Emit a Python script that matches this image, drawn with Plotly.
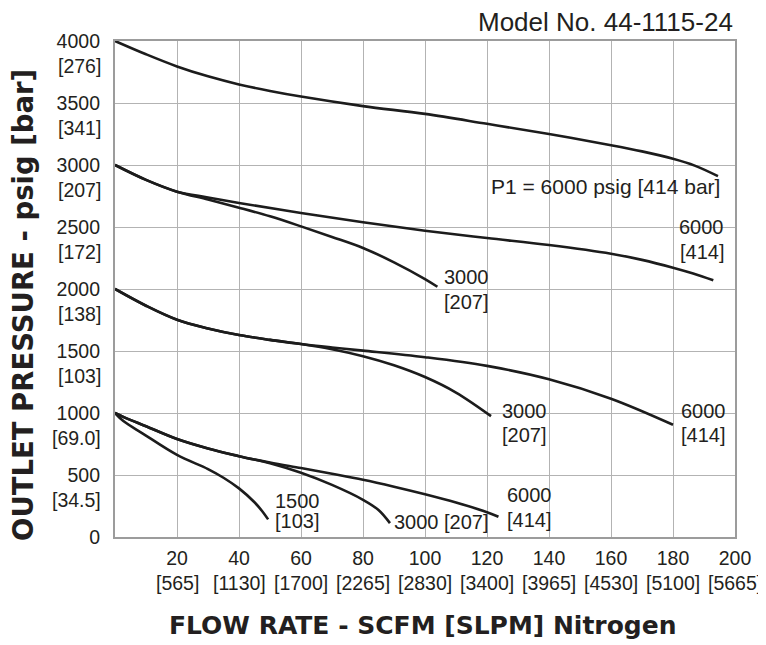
import plotly.graph_objects as go

# ---------------- data ----------------
# Top family (outlet set 4000 psig), P1 = 6000
top6000_x = [0, 10, 20, 30, 40, 50, 60, 80, 100, 120, 140, 160, 170, 180, 187, 194.5]
top6000_y = [4000, 3893, 3795, 3715, 3650, 3597, 3552, 3475, 3412, 3332, 3250, 3160, 3110, 3050, 2995, 2910]

# Outlet set 3000 psig
s3000_p6000_x = [0, 10, 20, 30, 40, 60, 80, 100, 120, 140, 160, 170, 180, 186.5, 193]
s3000_p6000_y = [3000, 2880, 2785, 2738, 2694, 2613, 2538, 2470, 2411, 2355, 2285, 2235, 2172, 2125, 2070]
s3000_p3000_x = [0, 10, 20, 30, 40, 50, 60, 70, 80, 90, 100, 104]
s3000_p3000_y = [3000, 2880, 2785, 2722, 2656, 2586, 2505, 2420, 2331, 2215, 2080, 2018]

# Outlet set 2000 psig
s2000_p6000_x = [0, 10, 20, 30, 40, 50, 60, 70, 80, 100, 120, 140, 160, 180]
s2000_p6000_y = [2000, 1865, 1752, 1682, 1629, 1590, 1556, 1528, 1503, 1450, 1380, 1272, 1115, 905]
s2000_p3000_x = [0, 10, 20, 30, 40, 50, 60, 70, 80, 90, 100, 110, 121.3]
s2000_p3000_y = [2000, 1865, 1752, 1682, 1629, 1590, 1556, 1514, 1458, 1385, 1290, 1165, 975]

# Outlet set 1000 psig
s1000_p6000_x = [0, 3, 10, 20, 30, 40, 50, 60, 70, 80, 90, 100, 110, 120, 123.7]
s1000_p6000_y = [1000, 965, 893, 790, 714, 652, 601, 556, 510, 462, 406, 345, 278, 200, 163]
s1000_p3000_x = [0, 3, 10, 20, 30, 40, 50, 60, 70, 80, 85, 88.7]
s1000_p3000_y = [1000, 965, 893, 790, 714, 652, 595, 518, 420, 300, 218, 112]
s1000_p1500_x = [0, 2.7, 9.1, 20, 30, 35, 40, 45, 47.5, 49.4]
s1000_p1500_y = [1000, 935, 832, 662, 548, 478, 392, 280, 208, 142]

series = [
    (top6000_x, top6000_y),
    (s3000_p6000_x, s3000_p6000_y),
    (s3000_p3000_x, s3000_p3000_y),
    (s2000_p6000_x, s2000_p6000_y),
    (s2000_p3000_x, s2000_p3000_y),
    (s1000_p6000_x, s1000_p6000_y),
    (s1000_p3000_x, s1000_p3000_y),
    (s1000_p1500_x, s1000_p1500_y),
]

# ticks
x_tick_vals = [20, 40, 60, 80, 100, 120, 140, 160, 180, 200]
x_tick_text = ["20", "40", "60", "80", "100", "120", "140", "160", "180", "200"]
x_tick_sub = ["[565]", "[1130]", "[1700]", "[2265]", "[2830]", "[3400]", "[3965]", "[4530]", "[5100]", "[5665]"]
y_tick_vals = [0, 500, 1000, 1500, 2000, 2500, 3000, 3500, 4000]
y_tick_text = ["0", "500", "1000", "1500", "2000", "2500", "3000", "3500", "4000"]
y_tick_sub = ["", "[34.5]", "[69.0]", "[103]", "[138]", "[172]", "[207]", "[341]", "[276]"]

# curve labels: text, x, y, anchor, size
label_text = ["P1 = 6000 psig [414 bar]", "6000", "[414]", "3000", "[207]",
              "3000", "[207]", "6000", "[414]",
              "6000", "[414]", "3000 [207]", "1500", "[103]"]
label_x = [195.8, 197.1, 197.1, 105.5, 105.5,
           124.2, 124.2, 182.0, 182.0,
           125.8, 125.8, 89.4, 51.0, 51.0]
label_y = [2823, 2500, 2298, 2097, 1895,
           1016, 823, 1016, 823,
           339, 137, 121, 290, 129]
label_anchor = ["right", "right", "right", "left", "left",
                "left", "left", "left", "left",
                "left", "left", "left", "left", "left"]
label_size = [21, 20, 20, 20, 20, 20, 20, 20, 20, 20, 20, 20, 20, 20]

TXT = "#231f20"
FONT = "Liberation Sans, Arial, sans-serif"

fig = go.Figure()
for xs, ys in series:
    fig.add_trace(go.Scatter(
        x=xs, y=ys, mode="lines",
        line=dict(color="#1c1c1c", width=2.6, shape="spline", smoothing=1.0),
        cliponaxis=False, hoverinfo="skip", showlegend=False))

annotations = []
for t, x, y, a, s in zip(label_text, label_x, label_y, label_anchor, label_size):
    annotations.append(dict(text=t, x=x, y=y, xref="x", yref="y", xanchor=a,
                            yanchor="middle", showarrow=False,
                            font=dict(family=FONT, size=s, color=TXT)))
for v, s in zip(x_tick_vals, x_tick_sub):
    annotations.append(dict(text=s, x=v, y=0, xref="x", yref="paper", yshift=-46,
                            xanchor="center", yanchor="middle", showarrow=False,
                            font=dict(family=FONT, size=19.5, color=TXT)))
for v, s in zip(y_tick_vals, y_tick_sub):
    if s:
        annotations.append(dict(text=s, x=0, y=v, xref="paper", yref="y", xshift=-12,
                                yshift=-25, xanchor="right", yanchor="middle",
                                showarrow=False,
                                font=dict(family=FONT, size=19.5, color=TXT)))
annotations.append(dict(text="Model No. 44-1115-24", x=1, y=1, xref="paper", yref="paper",
                        yshift=19, xanchor="right", yanchor="middle", showarrow=False,
                        font=dict(family=FONT, size=26, color=TXT)))
annotations.append(dict(text="OUTLET PRESSURE - psig [bar]", x=0, y=0.5, xref="paper",
                        yref="paper", xshift=-92, yshift=-16, textangle=-90,
                        xanchor="center", yanchor="middle", showarrow=False,
                        font=dict(family="DejaVu Sans", size=27.5, color=TXT, weight="bold")))
annotations.append(dict(text="FLOW RATE - SCFM [SLPM] Nitrogen", x=0.5, y=0, xref="paper",
                        yref="paper", xshift=-2, yshift=-88, xanchor="center",
                        yanchor="middle", showarrow=False,
                        font=dict(family="DejaVu Sans", size=25, color=TXT, weight="bold")))

# The page body has an 8px margin; size the figure so the plot area lands
# at x 115..735, y 41..537 in the browser window.
fig.update_layout(
    width=758, height=637, autosize=False,
    margin=dict(l=107, r=31, t=33, b=108),
    paper_bgcolor="white", plot_bgcolor="white",
    annotations=annotations,
    xaxis=dict(range=[0, 200], tickvals=x_tick_vals, ticktext=x_tick_text,
               showgrid=True, gridcolor="#b3b3b3", gridwidth=1.3,
               showline=True, linecolor="#9c9c9c", linewidth=2.2, mirror=True,
               zeroline=False, ticks="", ticklabelstandoff=2,
               tickfont=dict(family=FONT, size=19.5, color=TXT)),
    yaxis=dict(range=[0, 4000], tickvals=y_tick_vals, ticktext=y_tick_text,
               showgrid=True, gridcolor="#b3b3b3", gridwidth=1.3,
               showline=True, linecolor="#9c9c9c", linewidth=2.2, mirror=True,
               zeroline=False, ticks="", ticklabelstandoff=9,
               tickfont=dict(family=FONT, size=19.5, color=TXT)),
)

fig.write_html("out.html")
